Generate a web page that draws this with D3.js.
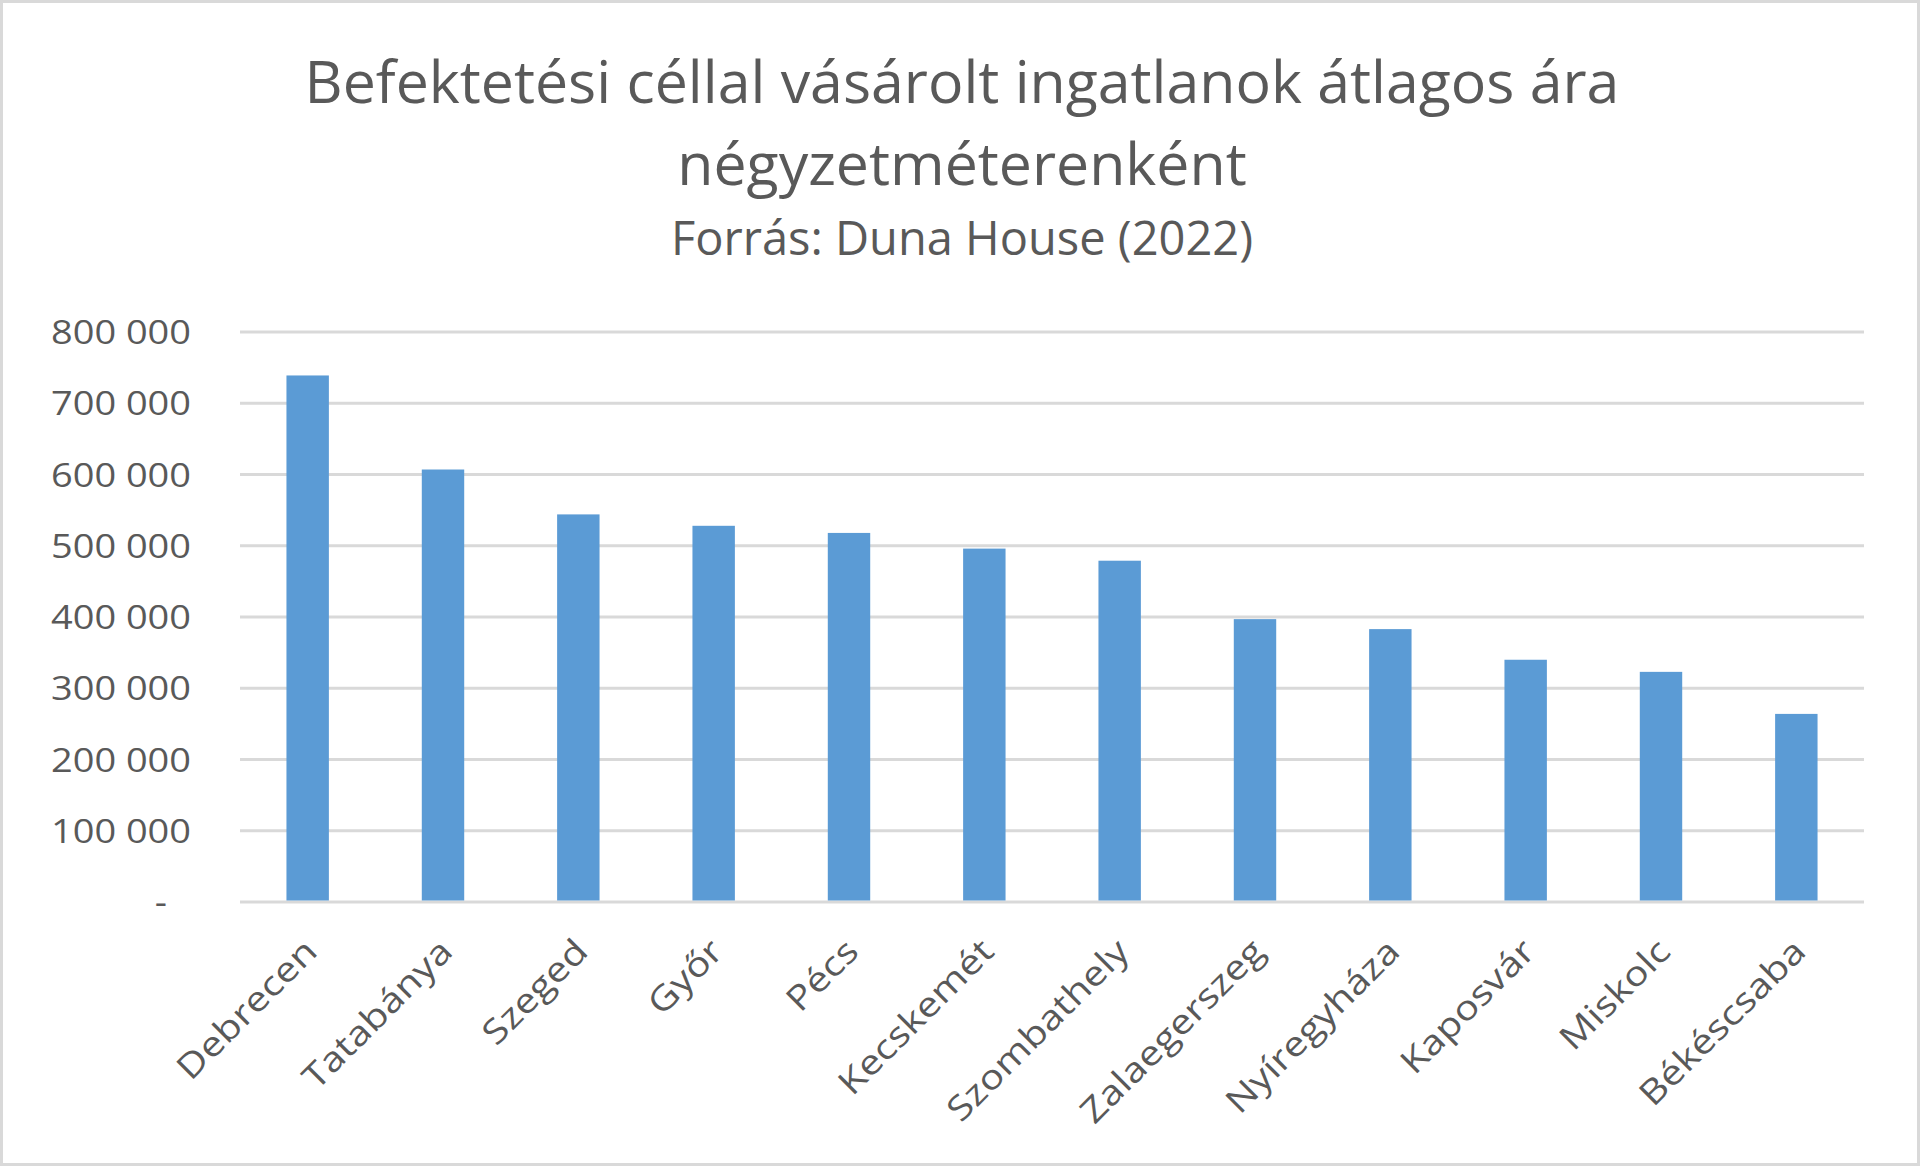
<!DOCTYPE html>
<html>
<head>
<meta charset="utf-8">
<script src="https://cdn.jsdelivr.net/npm/d3@7"></script>
<style>
  body { margin: 0; background: #fff; }
  svg text { font-family: "Open Sans", sans-serif; fill: #595959; }
</style>
</head>
<body>
<div id="chart"></div>
<script>
// data
const cities = [ 'Debrecen', 'Tatabánya', 'Szeged', 'Győr', 'Pécs', 'Kecskemét',
  'Szombathely', 'Zalaegerszeg', 'Nyíregyháza', 'Kaposvár', 'Miskolc', 'Békéscsaba' ];
const prices = [ 739000, 607000, 544000, 528000, 518000, 496000,
  479000, 397000, 383000, 340000, 323000, 264000 ];
const yTicks = [ 0, 100000, 200000, 300000, 400000, 500000, 600000, 700000, 800000 ];
const titleLines = [ 'Befektetési céllal vásárolt ingatlanok átlagos ára', 'négyzetméterenként' ];
const subtitle = 'Forrás: Duna House (2022)';

const width = 1920, height = 1166;
const plot = { left: 240, right: 1864, top: 332, bottom: 902 };

const svg = d3.select( '#chart' ).append( 'svg' )
  .attr( 'width', width )
  .attr( 'height', height );

// outer frame
svg.append( 'rect' )
  .attr( 'x', 1.5 ).attr( 'y', 1.5 )
  .attr( 'width', width - 3 ).attr( 'height', height - 3 )
  .attr( 'fill', '#fff' )
  .attr( 'stroke', '#d9d9d9' )
  .attr( 'stroke-width', 3 );

// titles
svg.selectAll( 'text.title' )
  .data( titleLines )
  .join( 'text' )
  .attr( 'class', 'title' )
  .attr( 'x', 962 )
  .attr( 'y', ( d, i ) => 103 + i * 82 )
  .attr( 'text-anchor', 'middle' )
  .style( 'font-size', '59px' )
  .text( d => d );

svg.append( 'text' )
  .attr( 'x', 962 )
  .attr( 'y', 255 )
  .attr( 'text-anchor', 'middle' )
  .style( 'font-size', '47px' )
  .text( subtitle );

const x = d3.scaleBand().domain( cities ).range( [ plot.left, plot.right ] ).padding( 0 );
const y = d3.scaleLinear().domain( [ 0, 800000 ] ).range( [ plot.bottom, plot.top ] );
const barWidth = x.bandwidth() / 3.19;

// gridlines
svg.append( 'g' )
  .selectAll( 'line' )
  .data( yTicks )
  .join( 'line' )
  .attr( 'x1', plot.left ).attr( 'x2', plot.right )
  .attr( 'y1', d => y( d ) ).attr( 'y2', d => y( d ) )
  .attr( 'stroke', '#d9d9d9' )
  .attr( 'stroke-width', 3 );

// y axis labels (slightly widened like the source)
const fmt = d => d === 0 ? '-' : d3.format( ',' )( d ).replace( /,/g, ' ' );
svg.append( 'g' )
  .selectAll( 'text' )
  .data( yTicks )
  .join( 'text' )
  .attr( 'transform', d => `translate(${d === 0 ? 167 : 191},${y( d ) + 12}) scale(1.15,1)` )
  .attr( 'text-anchor', 'end' )
  .style( 'font-size', '33px' )
  .text( fmt );

// bars
svg.append( 'g' )
  .selectAll( 'rect' )
  .data( cities )
  .join( 'rect' )
  .attr( 'x', d => x( d ) + ( x.bandwidth() - barWidth ) / 2 )
  .attr( 'width', barWidth )
  .attr( 'y', ( d, i ) => y( prices[ i ] ) )
  .attr( 'height', ( d, i ) => y( 0 ) - y( prices[ i ] ) - 1.5 )
  .attr( 'fill', '#5b9bd5' );

// x labels
svg.append( 'g' )
  .selectAll( 'text' )
  .data( cities )
  .join( 'text' )
  .attr( 'transform', d => `translate(${x( d ) + x.bandwidth() / 2 + 5},${plot.bottom + 45}) rotate(-45) scale(1.18,1)` )
  .attr( 'text-anchor', 'end' )
  .attr( 'dominant-baseline', 'middle' )
  .style( 'font-size', '34px' )
  .text( d => d );
</script>
</body>
</html>
